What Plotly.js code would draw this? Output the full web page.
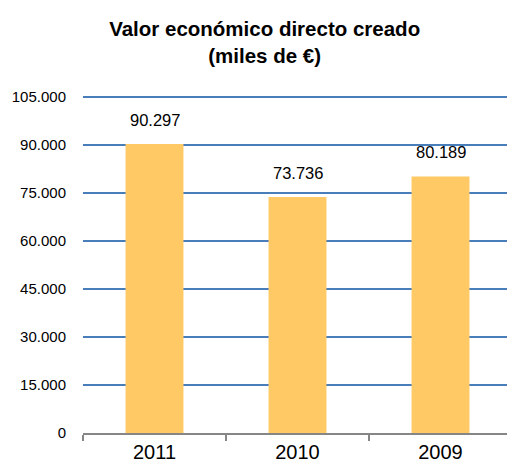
<!DOCTYPE html>
<html>
<head>
<meta charset="utf-8">
<script src="https://cdn.plot.ly/plotly-3.0.1.min.js"></script>
<style>html,body{margin:0;padding:0;background:#fff;}#chart{width:507px;height:468px;}</style>
</head>
<body>
<div id="chart"></div>
<script>
const years = ["2011", "2010", "2009"];
const values = [90297, 73736, 80189];
const yTicks = [0, 15000, 30000, 45000, 60000, 75000, 90000, 105000];

function fmt(v) {
  return String(v).replace(/\B(?=(\d{3})+(?!\d))/g, ".");
}

const trace = {
  type: "bar",
  x: years,
  y: values,
  marker: {color: "#FFCA65"},
  hoverinfo: "skip"
};

const annotations = values.map((v, i) => ({
  x: i, y: v, xref: "x", yref: "y",
  text: fmt(v),
  showarrow: false, yanchor: "bottom", yshift: 13,
  font: {family: "Liberation Sans, Arial, sans-serif", size: 16.5, color: "#000"}
}));

const layout = {
  width: 507, height: 468,
  margin: {l: 83, r: 0, t: 95, b: 35},
  paper_bgcolor: "#fff", plot_bgcolor: "#fff",
  separators: ",.",
  showlegend: false,
  bargap: 0.595,
  title: {
    text: "<b>Valor económico directo creado<br>(miles de €)</b>",
    x: 0.522, xanchor: "center", y: 0.923, yanchor: "top",
    font: {family: "Liberation Sans, Arial, sans-serif", size: 20.5, color: "#000"}
  },
  xaxis: {
    type: "category",
    range: [-0.5, 2.465],
    showline: true, linecolor: "#868686", linewidth: 2,
    ticks: "outside", ticklen: 6, tickwidth: 2, tickcolor: "#868686",
    tickson: "boundaries",
    showgrid: false,
    tickfont: {family: "Liberation Sans, Arial, sans-serif", size: 20, color: "#000"},
    fixedrange: true
  },
  yaxis: {
    range: [0, 105625],
    tickvals: yTicks,
    tickformat: ",d",
    showgrid: true, gridcolor: "#4A7EBB", gridwidth: 2,
    zeroline: false, showline: false,
    ticks: "", ticklabelstandoff: 16,
    tickfont: {family: "Liberation Sans, Arial, sans-serif", size: 15, color: "#000"},
    fixedrange: true
  },
  annotations: annotations
};

Plotly.newPlot("chart", [trace], layout, {displayModeBar: false, staticPlot: true});
</script>
</body>
</html>
